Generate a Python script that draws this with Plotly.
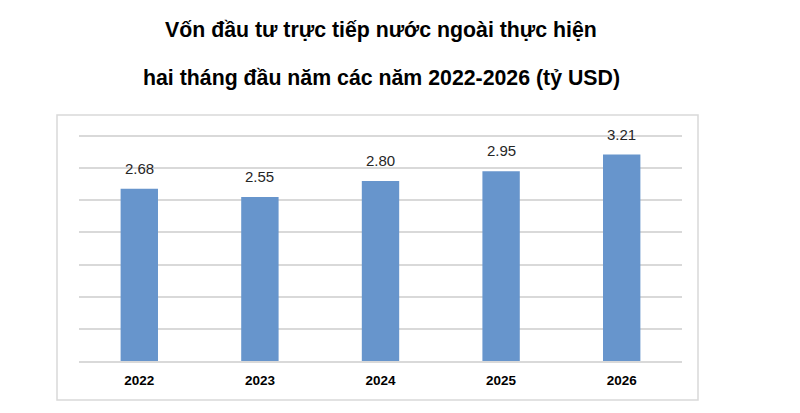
import plotly.graph_objects as go

years = ["2022", "2023", "2024", "2025", "2026"]
fdi_values = [2.68, 2.55, 2.80, 2.95, 3.21]
title_lines = [
    "Vốn đầu tư trực tiếp nước ngoài thực hiện",
    "hai tháng đầu năm các năm 2022-2026 (tỷ USD)",
]

bar_color = "#6795CC"

fig = go.Figure()
fig.add_trace(go.Bar(
    x=years, y=fdi_values,
    marker=dict(color=bar_color, line=dict(width=0)),
    width=0.31,
    hoverinfo="x+y",
))

# value labels above bars (category index as x so the axis is not stretched)
for i, v in enumerate(fdi_values):
    fig.add_annotation(x=i, y=v, text=f"{v:.2f}", showarrow=False,
                       yanchor="bottom", yshift=10,
                       font=dict(family="Liberation Sans, Arial", size=15, color="#262626"))

# plot area: x 79..682, y 134..361 px
ph = 227


def py(p):
    return (361 - p) / ph


# two title lines with wide spacing
title_y = [30, 78]
for line, p in zip(title_lines, title_y):
    fig.add_annotation(xref="paper", yref="paper", x=(381 - 79) / 603,
                       y=py(p), text="<b>" + line + "</b>", showarrow=False,
                       xanchor="center", yanchor="middle",
                       font=dict(family="Liberation Sans, Arial", size=21.3, color="#000000"))

# outer chart border
fig.add_shape(type="rect", xref="paper", yref="paper",
              x0=(57 - 79) / 603, x1=(698 - 79) / 603,
              y0=py(400), y1=py(115),
              line=dict(color="#d9d9d9", width=1.5), layer="below")

fig.update_layout(
    width=800, height=413,
    margin=dict(l=79, r=118, t=134, b=52, autoexpand=False),
    paper_bgcolor="white", plot_bgcolor="white",
    showlegend=False,
    font=dict(family="Liberation Sans, Arial"),
)
fig.update_xaxes(type="category", range=[-0.5, 4.5], showgrid=False, showline=True,
                 linecolor="#d9d9d9", linewidth=1.5, ticks="", automargin=False,
                 ticklabelstandoff=6,
                 tickfont=dict(size=13.5, color="#000000", weight="bold"))
fig.update_yaxes(range=[0, 3.53], tickvals=[0.5, 1, 1.5, 2, 2.5, 3, 3.5],
                 showgrid=True, gridcolor="#d9d9d9",
                 gridwidth=1.5, showticklabels=False, zeroline=False, ticks="",
                 automargin=False)

fig.write_html("out.html", config={"displayModeBar": False},
               post_script="document.body.style.margin='0';")
